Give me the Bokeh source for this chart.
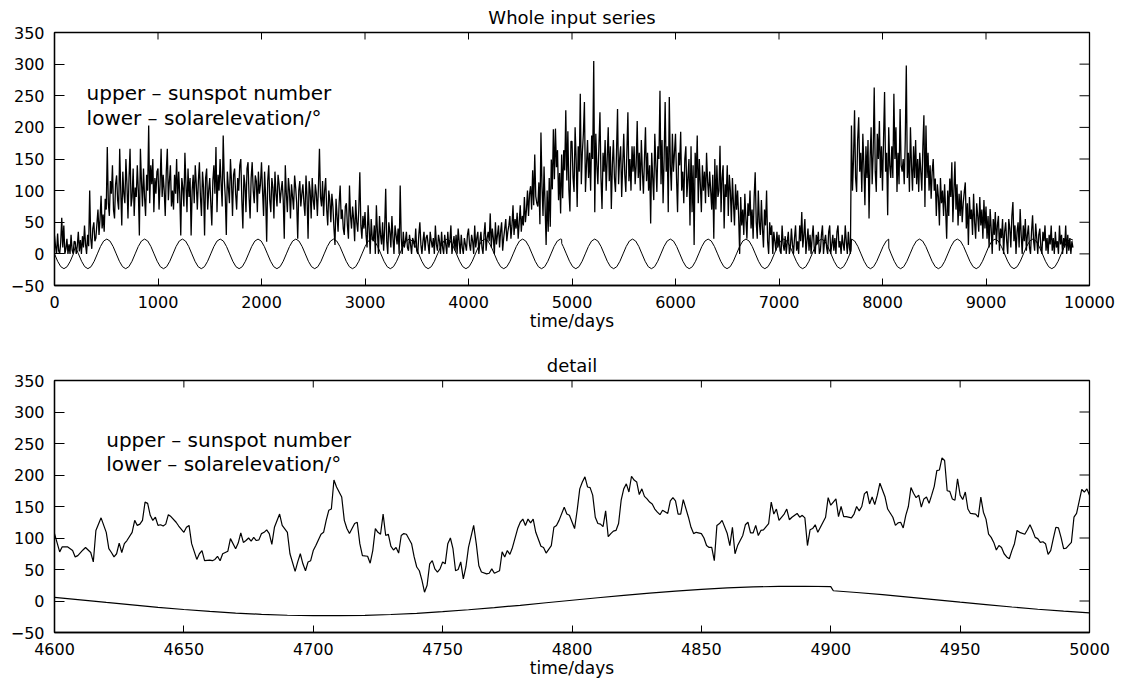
import numpy as np
from bokeh.plotting import figure
from bokeh.layouts import column
from bokeh.models import Range1d, FixedTicker, LinearAxis, Label
from bokeh.embed import file_html
from bokeh.resources import INLINE

FONT = "DejaVu Sans"

# ---------------------------------------------------------------------------
# Whole record: sunspot number, one value every 10 days (day 0 .. 9840)
# ---------------------------------------------------------------------------
ssn_step_days = 10
sunspot_number = [
    29, 12, 0, 32, 5, 0, 18, 57, 10, 45, 0, 8, 24, 0, 15, 0, 30, 6, 0, 20,                   # 0
    19, 0, 12, 35, 4, 22, 0, 28, 10, 45, 15, 0, 30, 12, 100, 25, 8, 40, 50, 20,              # 200
    25, 48, 70, 30, 55, 92, 40, 62, 35, 87, 70, 169, 80, 60, 115, 95, 140, 70, 56, 110,      # 400
    124, 85, 70, 166, 100, 45, 130, 95, 80, 150, 110, 56, 120, 166, 75, 90, 135, 60, 105, 90,  # 600
    140, 100, 29, 166, 115, 75, 135, 90, 60, 125, 100, 203, 80, 140, 110, 150, 66, 120, 95, 130,  # 800
    135, 70, 110, 166, 90, 125, 100, 60, 130, 166, 85, 115, 140, 75, 100, 70, 125, 95, 150, 80,  # 1000
    130, 95, 29, 120, 105, 75, 160, 110, 66, 135, 90, 120, 29, 100, 125, 80, 140, 110, 70, 115,  # 1200
    145, 90, 60, 130, 105, 29, 120, 135, 70, 100, 120, 80, 45, 115, 140, 95, 169, 66, 125, 100,  # 1400
    150, 110, 75, 187, 120, 90, 30, 130, 105, 80, 150, 115, 60, 125, 135, 95, 70, 120, 100, 140,  # 1600
    150, 85, 40, 125, 110, 66, 135, 145, 90, 56, 120, 145, 100, 80, 124, 115, 66, 130, 95, 110,  # 1800
    145, 100, 60, 130, 90, 19, 115, 140, 85, 66, 120, 105, 56, 130, 95, 75, 125, 110, 80, 100,   # 2000
    115, 85, 24, 140, 95, 66, 120, 100, 56, 110, 90, 70, 124, 105, 80, 24, 100, 115, 75, 95,     # 2200
    110, 80, 60, 124, 90, 24, 115, 100, 56, 120, 85, 70, 110, 95, 60, 105, 166, 90, 75, 115,     # 2400
    60, 100, 120, 70, 45, 100, 85, 50, 95, 75, 40, 14, 87, 60, 35, 80, 108, 55, 70, 40,          # 2600
    30, 75, 80, 45, 24, 108, 60, 40, 75, 55, 20, 85, 50, 35, 70, 129, 45, 24, 60, 40,            # 2800
    66, 30, 10, 77, 40, 0, 55, 25, 20, 45, 0, 77, 35, 0, 60, 30, 15, 50, 5, 40,                  # 3000
    103, 20, 0, 50, 35, 10, 60, 25, 0, 45, 30, 15, 40, 0, 108, 25, 0, 35, 10, 20,                # 3200
    35, 10, 5, 30, 15, 0, 25, 20, 10, 40, 5, 0, 30, 50, 15, 0, 20, 35, 5, 25,                    # 3400
    30, 15, 0, 35, 20, 10, 25, 0, 45, 15, 5, 30, 20, 0, 35, 10, 0, 30, 15, 0,                    # 3600
    35, 10, 20, 45, 0, 15, 28, 5, 30, 0, 40, 20, 0, 30, 10, 0, 25, 15, 5, 30,                    # 3800
    40, 15, 5, 30, 20, 0, 45, 10, 25, 35, 0, 20, 35, 10, 0, 30, 50, 5, 25, 35,                   # 4000
    20, 64, 10, 40, 25, 0, 50, 15, 30, 45, 10, 35, 50, 5, 25, 40, 55, 20, 35, 45,                # 4200
    60, 24, 45, 77, 30, 55, 40, 65, 24, 50, 77, 35, 60, 45, 90, 50, 70, 100, 60, 95,             # 4400
    107, 70, 132, 77, 157, 91, 80, 75, 113, 47, 192, 107, 60, 138, 76, 14, 100, 35, 120, 43,     # 4600
    149, 102, 197, 118, 198, 137, 164, 85, 128, 64, 157, 88, 164, 132, 227, 116, 194, 101, 67, 178,  # 4800
    178, 120, 98, 200, 150, 74, 170, 130, 253, 110, 160, 190, 240, 98, 140, 180, 120, 160, 100, 187,  # 5000
    150, 305, 66, 190, 140, 110, 170, 224, 120, 71, 160, 130, 180, 100, 150, 200, 115, 170, 71, 140,  # 5200
    180, 120, 98, 160, 229, 110, 150, 170, 90, 140, 190, 125, 98, 160, 224, 115, 150, 100, 170, 130,  # 5400
    170, 110, 140, 210, 120, 160, 100, 180, 130, 95, 150, 200, 115, 160, 100, 140, 48, 160, 120, 85,  # 5600
    190, 140, 98, 170, 150, 258, 110, 180, 80, 150, 240, 130, 170, 66, 248, 140, 100, 190, 130, 160,  # 5800
    190, 120, 66, 160, 140, 193, 100, 130, 80, 150, 170, 90, 120, 150, 45, 170, 66, 140, 14, 160,    # 6000
    120, 187, 80, 150, 110, 66, 140, 100, 130, 80, 160, 115, 90, 130, 100, 70, 125, 24, 150, 70,     # 6200
    140, 90, 100, 171, 66, 120, 140, 40, 110, 90, 140, 60, 125, 100, 50, 120, 80, 45, 110, 70,       # 6400
    100, 60, 0, 90, 45, 70, 30, 95, 55, 24, 80, 60, 100, 40, 70, 24, 90, 129, 50, 24,                # 6600
    100, 50, 30, 85, 40, 10, 70, 45, 100, 20, 0, 50, 30, 45, 0, 35, 20, 5, 35, 10,                   # 6800
    30, 5, 0, 45, 15, 5, 28, 0, 20, 35, 0, 10, 40, 15, 0, 25, 45, 5, 20, 0,                          # 7000
    45, 20, 66, 10, 30, 55, 0, 20, 40, 5, 30, 0, 25, 45, 10, 0, 30, 15, 35, 0,                       # 7200
    5, 30, 45, 0, 20, 30, 10, 0, 35, 45, 0, 15, 30, 5, 25, 0, 35, 45, 10, 20,                        # 7400
    0, 30, 15, 5, 45, 20, 0, 35, 10, 0, 203, 100, 150, 227, 120, 98, 180, 216, 130, 160,             # 7600
    98, 190, 140, 77, 170, 120, 180, 56, 150, 200, 110, 160, 263, 130, 98, 190, 150, 210, 120, 170,  # 7800
    100, 180, 256, 130, 160, 61, 200, 140, 120, 170, 120, 253, 150, 200, 98, 160, 110, 229, 140, 130,  # 8000
    150, 110, 180, 298, 120, 160, 98, 200, 140, 100, 170, 120, 180, 110, 150, 98, 160, 130, 100, 170,  # 8200
    219, 74, 203, 120, 160, 100, 140, 87, 130, 150, 100, 119, 60, 110, 90, 45, 120, 80, 100, 60,     # 8400
    110, 70, 24, 100, 60, 119, 90, 145, 50, 100, 146, 70, 110, 45, 95, 60, 100, 50, 80, 98,          # 8600
    113, 40, 80, 14, 90, 55, 70, 30, 95, 50, 24, 80, 60, 35, 90, 45, 70, 24, 85, 40,                 # 8800
    75, 24, 60, 10, 71, 40, 0, 55, 30, 66, 15, 45, 60, 5, 40, 25, 55, 0, 35, 50,                     # 9000
    20, 0, 55, 40, 10, 60, 82, 20, 45, 0, 35, 50, 10, 71, 30, 0, 45, 20, 55, 5,                      # 9200
    30, 45, 10, 0, 35, 61, 20, 5, 48, 25, 0, 30, 40, 10, 0, 35, 20, 45, 5, 25,                       # 9400
    0, 30, 15, 45, 5, 25, 0, 35, 10, 20, 0, 45, 15, 30, 0, 25, 10, 45, 0, 30,                        # 9600
    5, 25, 0, 20, 10,                                                                                # 9800
]

# ---------------------------------------------------------------------------
# Whole record: solar elevation in degrees, one value per twelfth of a year,
# stored in the pieces the record was assembled from
# ---------------------------------------------------------------------------
elev_step_days = 365.25 / 12
elev_piece_start = [0.0, 200.94, 4915.19, 7701.06, 8083.44]
elev_piece_1 = [0, -11.7, -20.3, -23.4, -20.3, -11.7, 0]
elev_piece_2 = [
    11.7, 0, -11.7, -20.3, -23.4, -20.3, -11.7,
    0, 11.7, 20.3, 23.4, 20.3, 11.7, 0, -11.7, -20.3, -23.4, -20.3, -11.7,
    0, 11.7, 20.3, 23.4, 20.3, 11.7, 0, -11.7, -20.3, -23.4, -20.3, -11.7,
    0, 11.7, 20.3, 23.4, 20.3, 11.7, 0, -11.7, -20.3, -23.4, -20.3, -11.7,
    0, 11.7, 20.3, 23.4, 20.3, 11.7, 0, -11.7, -20.3, -23.4, -20.3, -11.7,
    0, 11.7, 20.3, 23.4, 20.3, 11.7, 0, -11.7, -20.3, -23.4, -20.3, -11.7,
    0, 11.7, 20.3, 23.4, 20.3, 11.7, 0, -11.7, -20.3, -23.4, -20.3, -11.7,
    0, 11.7, 20.3, 23.4, 20.3, 11.7, 0, -11.7, -20.3, -23.4, -20.3, -11.7,
    0, 11.7, 20.3, 23.4, 20.3, 11.7, 0, -11.7, -20.3, -23.4, -20.3, -11.7,
    0, 11.7, 20.3, 23.4, 20.3, 11.7, 0, -11.7, -20.3, -23.4, -20.3, -11.7,
    0, 11.7, 20.3, 23.4, 20.3, 11.7, 0, -11.7, -20.3, -23.4, -20.3, -11.7,
    0, 11.7, 20.3, 23.4, 20.3, 11.7, 0, -11.7, -20.3, -23.4, -20.3, -11.7,
    0, 11.7, 20.3, 23.4, 20.3, 11.7, 0, -11.7, -20.3, -23.4, -20.3, -11.7,
    0, 11.7, 20.3, 23.4,
]
elev_piece_3 = [
    11.7, 0, -11.7, -20.3, -23.4, -20.3, -11.7,
    0, 11.7, 20.3, 23.4, 20.3, 11.7, 0, -11.7, -20.3, -23.4, -20.3, -11.7,
    0, 11.7, 20.3, 23.4, 20.3, 11.7, 0, -11.7, -20.3, -23.4, -20.3, -11.7,
    0, 11.7, 20.3, 23.4, 20.3, 11.7, 0, -11.7, -20.3, -23.4, -20.3, -11.7,
    0, 11.7, 20.3, 23.4, 20.3, 11.7, 0, -11.7, -20.3, -23.4, -20.3, -11.7,
    0, 11.7, 20.3, 23.4, 20.3, 11.7, 0, -11.7, -20.3, -23.4, -20.3, -11.7,
    0, 11.7, 20.3, 23.4, 20.3, 11.7, 0, -11.7, -20.3, -23.4, -20.3, -11.7,
    0, 11.7, 20.3, 23.4, 20.3, 11.7, 0, -11.7, -20.3, -23.4, -20.3, -11.7,
    0,
]
elev_piece_4 = [23.4, 20.3, 11.7, 0, -11.7, -20.3, -23.4, -20.3, -11.7, 0, 11.7, 20.3]
elev_piece_5 = [
    0, -11.7, -20.3, -23.4, -20.3, -11.7,
    0, 11.7, 20.3, 23.4, 20.3, 11.7, 0, -11.7, -20.3, -23.4, -20.3, -11.7,
    0, 11.7, 20.3, 23.4, 20.3, 11.7, 0, -11.7, -20.3, -23.4, -20.3, -11.7,
    0, 11.7, 20.3, 23.4, 20.3, 11.7, 0, -11.7, -20.3, -23.4, -20.3, -11.7,
    0, 11.7, 20.3, 23.4, 20.3, 11.7, 0, -11.7, -20.3, -23.4, -20.3, -11.7,
    0, 11.7, 20.3, 23.4,
]
# values at the joins between pieces
elev_join_day = [4900, 4901, 7697, 8060, 8061, 9840]
elev_join_deg = [22.9, 16.3, 4.8, 23.3, 9.1, 21.8]

# ---------------------------------------------------------------------------
# Detail window, days 4600 - 5000
# ---------------------------------------------------------------------------
detail_sunspots = [
    (4600, 107), (4602, 78), (4603, 86), (4605, 86), (4607, 80), (4608, 70),
    (4609, 72), (4611, 81), (4612, 85), (4613, 81), (4614, 77), (4615, 62),
    (4616, 112), (4618, 132), (4620, 109), (4621, 83), (4622, 77), (4623, 70),
    (4624, 75), (4625, 92), (4626, 77), (4627, 91), (4628, 96), (4630, 109),
    (4631, 128), (4632, 120), (4633, 122), (4634, 128), (4635, 157), (4636, 155),
    (4637, 136), (4638, 128), (4639, 133), (4640, 120), (4641, 121), (4642, 119),
    (4643, 122), (4644, 137), (4645, 134), (4647, 125), (4648, 119), (4650, 109),
    (4651, 117), (4652, 120), (4653, 91), (4655, 66), (4656, 75), (4657, 80),
    (4658, 64), (4660, 65), (4661, 64), (4662, 66), (4663, 71), (4664, 64),
    (4665, 75), (4667, 79), (4668, 99), (4670, 83), (4671, 92), (4672, 108),
    (4673, 93), (4674, 96), (4675, 100), (4676, 95), (4677, 101), (4678, 96),
    (4679, 97), (4680, 107), (4681, 109), (4682, 113), (4683, 107), (4684, 90),
    (4685, 117), (4687, 138), (4688, 120), (4690, 109), (4691, 75), (4693, 47),
    (4694, 62), (4695, 75), (4696, 59), (4697, 48), (4698, 62), (4699, 64),
    (4700, 80), (4701, 88), (4703, 106), (4704, 109), (4705, 128), (4706, 144),
    (4707, 146), (4708, 192), (4709, 181), (4711, 165), (4712, 128), (4713, 115),
    (4714, 107), (4716, 123), (4717, 125), (4718, 91), (4719, 72), (4721, 71),
    (4722, 60), (4723, 80), (4724, 115), (4725, 109), (4726, 106), (4727, 138),
    (4728, 104), (4729, 106), (4730, 87), (4731, 81), (4732, 85), (4733, 76),
    (4734, 104), (4735, 107), (4736, 106), (4738, 91), (4739, 70), (4740, 54),
    (4741, 48), (4742, 33), (4743, 14), (4744, 25), (4745, 59), (4746, 64),
    (4747, 51), (4748, 46), (4749, 51), (4750, 62), (4751, 59), (4752, 91),
    (4753, 100), (4754, 83), (4755, 48), (4756, 50), (4757, 62), (4758, 35),
    (4759, 54), (4760, 85), (4762, 120), (4763, 91), (4764, 56), (4765, 46),
    (4767, 43), (4768, 44), (4769, 51), (4770, 44), (4772, 48), (4773, 78),
    (4774, 70), (4775, 80), (4776, 74), (4777, 85), (4779, 115), (4780, 125),
    (4781, 130), (4782, 120), (4783, 130), (4784, 124), (4785, 130), (4786, 109),
    (4788, 87), (4789, 85), (4790, 76), (4792, 88), (4793, 117), (4794, 120),
    (4795, 128), (4797, 149), (4798, 138), (4799, 136), (4801, 115), (4802, 144),
    (4803, 178), (4804, 189), (4805, 197), (4806, 181), (4807, 180), (4808, 168),
    (4809, 133), (4810, 123), (4811, 122), (4812, 118), (4813, 143), (4814, 102),
    (4815, 107), (4816, 111), (4817, 112), (4818, 123), (4819, 160), (4820, 178),
    (4821, 186), (4822, 173), (4823, 198), (4824, 192), (4825, 189), (4826, 169),
    (4827, 178), (4828, 166), (4829, 162), (4830, 157), (4831, 154), (4832, 146),
    (4833, 141), (4834, 137), (4835, 144), (4837, 139), (4838, 159), (4839, 164),
    (4840, 159), (4841, 138), (4842, 138), (4843, 161), (4845, 133), (4846, 117),
    (4847, 107), (4848, 109), (4850, 107), (4851, 100), (4852, 88), (4853, 85),
    (4854, 85), (4855, 64), (4856, 120), (4857, 123), (4858, 128), (4860, 107),
    (4861, 88), (4862, 117), (4863, 75), (4864, 88), (4866, 104), (4867, 121),
    (4868, 125), (4869, 108), (4870, 108), (4871, 120), (4872, 104), (4873, 112),
    (4874, 113), (4876, 123), (4877, 157), (4878, 138), (4879, 146), (4880, 128),
    (4882, 138), (4883, 146), (4884, 129), (4885, 133), (4887, 139), (4888, 133),
    (4889, 136), (4890, 132), (4891, 88), (4892, 113), (4893, 115), (4894, 121),
    (4895, 109), (4896, 117), (4898, 133), (4899, 164), (4900, 152), (4901, 157),
    (4902, 162), (4903, 134), (4904, 150), (4905, 134), (4906, 134), (4908, 132),
    (4909, 138), (4910, 150), (4911, 143), (4912, 150), (4913, 170), (4914, 174),
    (4915, 154), (4916, 165), (4917, 153), (4918, 168), (4919, 187), (4921, 165),
    (4922, 146), (4924, 133), (4925, 120), (4926, 124), (4927, 125), (4928, 116),
    (4929, 136), (4930, 150), (4931, 180), (4932, 171), (4933, 164), (4934, 168),
    (4935, 149), (4936, 162), (4937, 165), (4938, 155), (4939, 168), (4940, 182),
    (4941, 207), (4942, 208), (4943, 227), (4944, 223), (4945, 175), (4946, 174),
    (4947, 162), (4948, 160), (4949, 194), (4950, 168), (4951, 161), (4952, 173),
    (4953, 146), (4954, 139), (4956, 138), (4957, 133), (4958, 165), (4959, 141),
    (4960, 130), (4961, 106), (4962, 101), (4963, 93), (4964, 81), (4965, 88),
    (4966, 85), (4967, 75), (4968, 70), (4969, 67), (4970, 80), (4971, 91),
    (4972, 112), (4973, 109), (4975, 106), (4976, 113), (4977, 121), (4978, 112),
    (4979, 101), (4980, 99), (4981, 93), (4982, 94), (4983, 91), (4984, 74),
    (4985, 80), (4986, 99), (4987, 117), (4988, 116), (4989, 101), (4990, 83),
    (4991, 84), (4993, 93), (4994, 133), (4995, 139), (4997, 177), (4998, 173),
    (4999, 178), (5000, 168),
]
detail_elev_day = [4600, 4610, 4620, 4630, 4640, 4650, 4660, 4670, 4680, 4690,
                   4700, 4710, 4720, 4730, 4740, 4750, 4760, 4770, 4780, 4790,
                   4800, 4810, 4820, 4830, 4840, 4850, 4860, 4870, 4880, 4890,
                   4900, 4901, 4910, 4920, 4930, 4940, 4950, 4960, 4970, 4980,
                   4990, 5000]
detail_elev_deg = [5.7, 1.8, -2.3, -6.2, -10.0, -13.5, -16.6, -19.1, -21.2, -22.6,
                   -23.3, -23.3, -22.7, -21.4, -19.5, -16.9, -13.9, -10.5, -6.8, -2.8,
                   1.2, 5.2, 9.0, 12.6, 15.8, 18.5, 20.7, 22.3, 23.2, 23.4,
                   22.9, 16.3, 13.5, 10.0, 6.2, 2.3, -1.8, -5.7, -9.5, -13.1,
                   -16.2, -18.8]

y_ticks = list(range(-50, 351, 50))
whole_ticks = list(range(0, 10001, 1000))
detail_ticks = list(range(4600, 5001, 50))
upper_text = "upper \u2013 sunspot number"
lower_text = "lower \u2013 solarelevation/\u00b0"

FIG_W = 1140
BORDER_L, BORDER_R = 54, 51
FRAME_W = FIG_W - BORDER_L - BORDER_R
Y_LO, Y_HI = -50, 350


def style_axis(ax, ticks, tick_len, standoff):
    ax.ticker = FixedTicker(ticks=ticks)
    ax.major_tick_in = tick_len
    ax.major_tick_out = 0
    ax.minor_tick_in = 0
    ax.minor_tick_out = 0
    ax.axis_line_color = "black"
    ax.axis_line_width = 1.3
    ax.major_tick_line_color = "black"
    ax.major_tick_line_width = 1
    ax.major_label_text_font = FONT
    ax.major_label_text_font_size = "16px"
    ax.major_label_text_color = "black"
    ax.major_label_standoff = standoff


def make_panel(title, x_start, x_end, x_ticks, height, border_top, border_bottom):
    p = figure(width=FIG_W, height=height,
               x_range=Range1d(x_start, x_end), y_range=Range1d(Y_LO, Y_HI),
               x_axis_location=None, y_axis_location=None,
               output_backend="svg", toolbar_location=None,
               min_border_left=BORDER_L, min_border_right=BORDER_R,
               min_border_top=border_top, min_border_bottom=border_bottom)
    p.grid.grid_line_color = None
    p.outline_line_color = "black"
    p.outline_line_width = 1.3
    p.background_fill_color = "white"
    p.border_fill_color = "white"

    p.title.text = title
    p.title.align = "center"
    p.title.text_font = FONT
    p.title.text_font_size = "18px"
    p.title.text_font_style = "normal"
    p.title.text_color = "black"
    p.title.standoff = 9

    bottom = LinearAxis(axis_label="time/days")
    style_axis(bottom, x_ticks, 7, 10)
    bottom.axis_label_text_font = FONT
    bottom.axis_label_text_font_size = "17px"
    bottom.axis_label_text_font_style = "normal"
    bottom.axis_label_text_color = "black"
    bottom.axis_label_standoff = 0
    p.add_layout(bottom, "below")

    left = LinearAxis()
    style_axis(left, y_ticks, 10, 10)
    left.major_label_overrides = {-50: "\u221250"}
    p.add_layout(left, "left")

    # inward ticks along the top and right edges of the box
    frame_h = height - border_top - border_bottom
    top_len = 7 * (Y_HI - Y_LO) / frame_h
    right_len = 10 * (x_end - x_start) / FRAME_W
    p.segment(x0=x_ticks, y0=[Y_HI] * len(x_ticks),
              x1=x_ticks, y1=[Y_HI - top_len] * len(x_ticks),
              line_color="black", line_width=1)
    p.segment(x0=[x_end] * len(y_ticks), y0=y_ticks,
              x1=[x_end - right_len] * len(y_ticks), y1=y_ticks,
              line_color="black", line_width=1)
    return p


# ---- upper panel: the whole record ----
p1 = make_panel("Whole input series", 0, 10000, whole_ticks, 341, 32, 56)
ssn_days = np.arange(len(sunspot_number)) * ssn_step_days
p1.line(ssn_days, sunspot_number, line_color="black", line_width=1.3)

elev_pieces = [elev_piece_1, elev_piece_2, elev_piece_3, elev_piece_4, elev_piece_5]
e_days, e_deg = [], []
for start, vals in zip(elev_piece_start, elev_pieces):
    e_days.extend(start + elev_step_days * np.arange(len(vals)))
    e_deg.extend(vals)
e_days.extend(elev_join_day)
e_deg.extend(elev_join_deg)
order = np.argsort(e_days)
p1.line(np.asarray(e_days)[order], np.asarray(e_deg)[order],
        line_color="black", line_width=1)

for txt, yv in ((upper_text, 255), (lower_text, 215)):
    p1.add_layout(Label(x=310, y=yv, text=txt, text_baseline="middle",
                        text_font=FONT, text_font_size="20px", text_color="black"))

# ---- lower panel: detail ----
p2 = make_panel("detail", 4600, 5000, detail_ticks, 341, 39, 50)
d_day = [d for d, _ in detail_sunspots]
d_ssn = [v for _, v in detail_sunspots]
p2.line(d_day, d_ssn, line_color="black", line_width=1.2)
p2.line(detail_elev_day, detail_elev_deg, line_color="black", line_width=1.2)

for txt, yv in ((upper_text, 255), (lower_text, 217)):
    p2.add_layout(Label(x=4620, y=yv, text=txt, text_baseline="middle",
                        text_font=FONT, text_font_size="20px", text_color="black"))

layout = column(p1, p2)
open("out.html", "w").write(file_html(layout, INLINE))
